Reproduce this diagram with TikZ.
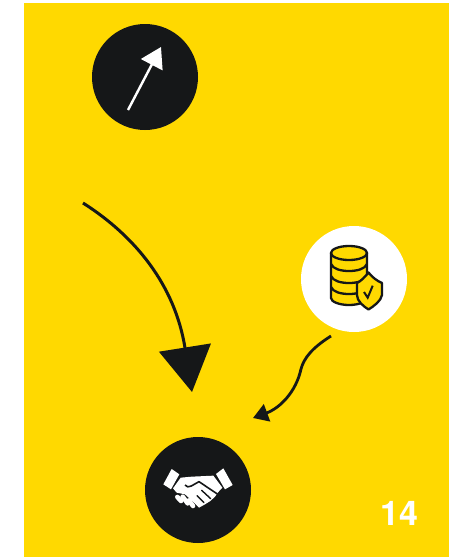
\documentclass[tikz,border=0pt]{standalone}
\usepackage{fontspec}
\setmainfont{TeX Gyre Heros}
\usetikzlibrary{arrows.meta}
\definecolor{pageyellow}{HTML}{FFD900}
\definecolor{inkblack}{HTML}{151718}
\tikzset{
    badge/.style={circle, fill=inkblack, minimum size=106pt, inner sep=0pt},
    iconline/.style={draw=inkblack, line width=2.3pt, line join=round, fill=pageyellow},
    fingergap/.style={draw=inkblack, line width=1.4pt, line cap=round},
    fingertip/.style={draw=white, line width=4.6pt, line cap=round},
}
\begin{document}
\begin{tikzpicture}[x=1pt, y=-1pt]
    \useasboundingbox (0,0) rectangle (449,557);
    \fill[pageyellow] (23.5,3) rectangle (449,557);

    % Badges
    \node[badge] (trend) at (145,77) {};
    \node[badge, fill=white] (storage) at (354,279) {};
    \node[badge] (deal) at (198,490) {};

    % Arrow inside the top badge
    \coordinate (trendtail) at (128,110);
    \coordinate (trendtip) at (161,47);
    \draw[white, line width=2.4pt, -{Triangle[length=20pt, width=24pt]}]
        (trendtail) -- (trendtip);

    % Curved arrows
    \coordinate (bigtail) at (83,203);
    \coordinate (bigtip) at (192,392);
    \draw[inkblack, line width=3pt, -{Triangle[length=45pt, width=52pt]}]
        (bigtail) .. controls (135,236) and (175,285) .. (bigtip);

    \coordinate (smalltail) at (331,336);
    \coordinate (smalltip) at (253,418);
    \draw[inkblack, line width=2.8pt, -{Triangle[length=15pt, width=18pt]}]
        (smalltail) .. controls (312,348) and (304,358) .. (301,369)
        .. controls (296,392) and (280,408) .. (smalltip);

    % Database icon
    \draw[iconline] (331,253) -- (331,298)
        .. controls (331,302) and (340,305) .. (349,305)
        .. controls (358,305) and (367,302) .. (367,298) -- (367,253);
    \draw[iconline] (349,253) ellipse (18pt and 7pt);
    \draw[iconline, fill=none] (331,264) .. controls (333,269) and (341,271) .. (349,271)
        .. controls (357,271) and (365,269) .. (367,264);
    \draw[iconline, fill=none] (331,276) .. controls (333,281) and (341,283) .. (349,283)
        .. controls (357,283) and (365,281) .. (367,276);
    \draw[iconline, fill=none] (331,287) .. controls (333,292) and (341,294) .. (349,294)
        .. controls (357,294) and (365,292) .. (367,287);

    % Shield icon
    \draw[iconline] (368.5,272.5) .. controls (372,277) and (377,281) .. (382,283)
        -- (382,295) .. controls (381,301) and (374,306) .. (368.5,309.5)
        .. controls (363,306) and (357,301) .. (357,295) -- (357,283)
        .. controls (361,281) and (365,277) .. (368.5,272.5) -- cycle;
    \draw[inkblack, line width=2pt] (364,292) -- (367.7,297.7) -- (372.7,285.7);

    % Handshake icon
    \begin{scope}[shift={(135,425)}, scale=1/3]
        \fill[white] (110,132) -- (133,148) -- (108,193) -- (85,178) -- cycle;
        \fill[white] (265,130) -- (293,180) -- (270,193) -- (243,147) -- cycle;
        \fill[white] (137,158) -- (170,155) -- (235,152) -- (262,188) -- (248,203)
            -- (240,215) -- (226,228) -- (210,238) -- (192,248) -- (172,228)
            -- (150,208) -- (125,203) -- (114,190) -- cycle;
        \draw[fingertip] (127,216) -- (138,228);
        \draw[fingertip] (143,215) -- (158,235);
        \draw[fingertip] (162,226) -- (174,243);
        \draw[inkblack, line width=1.6pt, line join=round]
            (150,180) .. controls (160,194) and (175,178) .. (192,170) -- (247,207);
        \draw[fingergap] (200,196) -- (227,221);
        \draw[fingergap] (186,212) -- (207,233);
    \end{scope}

    % Page number
    \node[white, font=\fontsize{34}{34}\selectfont\bfseries, inner sep=0pt] (pagenum) at (399,513.5) {14};
\end{tikzpicture}
\end{document}
